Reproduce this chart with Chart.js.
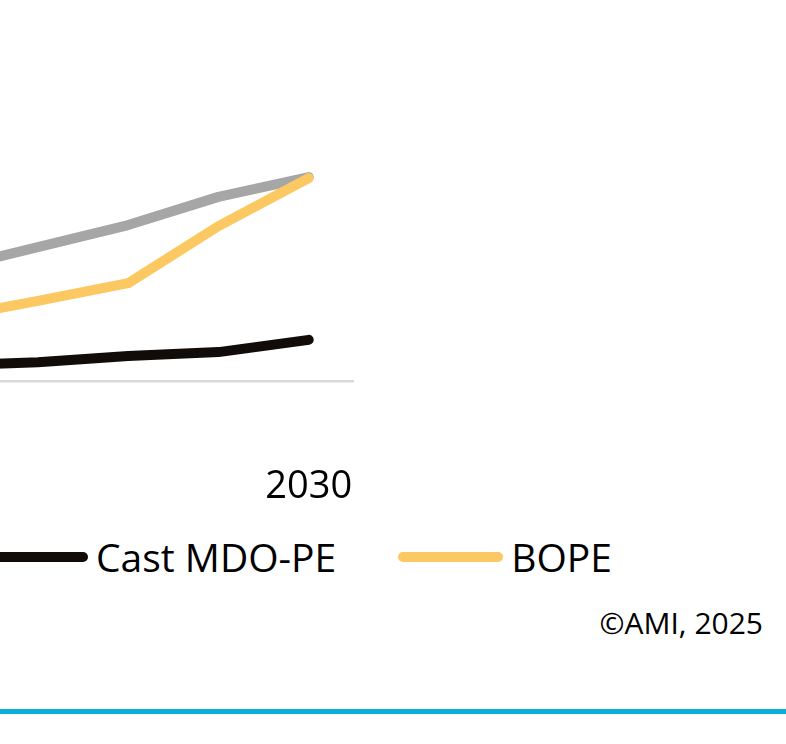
<!DOCTYPE html>
<html>
<head>
<title>MDO-PE vs BOPE</title>
<script src="https://cdn.jsdelivr.net/npm/chart.js@4.4.1/dist/chart.umd.min.js"></script>
<style>
html, body {
margin: 0;
padding: 0;
background: #ffffff;
overflow: hidden;
width: 786px;
height: 744px;
font-family: "Open Sans", sans-serif;
}
#chart1 {
position: absolute;
left: -190px;
top: 0px;
}
#legend {
position: absolute;
top: 534px;
left: -17px;
display: flex;
align-items: center;
white-space: nowrap;
}
.item {
display: flex;
align-items: center;
}
.item.off {
position: absolute;
right: 100%;
margin-right: 62px;
}
.item.gap {
margin-left: 62px;
}
.swatch {
display: inline-block;
width: 105px;
height: 10px;
border-radius: 5px;
margin-right: 8px;
}
.lbl {
font-size: 39px;
line-height: 46px;
color: #000000;
}
#credit {
position: absolute;
right: 23px;
top: 603px;
font-size: 30px;
line-height: 40px;
color: #000000;
}
#rule {
position: absolute;
left: 0;
top: 709px;
width: 786px;
height: 5px;
background: #0aaed8;
}
</style>
</head>
<body>
<canvas id="chart1" width="546" height="511"></canvas>
<div id="legend"></div>
<div id="credit">©AMI, 2025</div>
<div id="rule"></div>
<script>
// categories
var years = ['2025', '2026', '2027', '2028', '2029', '2030'];
// series (index values)
var blownMdo = [28, 31, 37.1, 43.2, 51, 56.5];
var castMdo = [3.6, 4.3, 5.2, 6.9, 8, 11.4];
var bope = [14, 17.5, 22.2, 27.1, 42.9, 56.2];

var names = ['Blown MDO-PE', 'Cast MDO-PE', 'BOPE'];
var colors = ['#a6a6a6', '#120c08', '#fbc862'];

var series = [blownMdo, castMdo, bope];
var datasets = [];
for (var i = 0; i < series.length; i++) {
  datasets.push({
    label: names[i],
    data: series[i],
    borderColor: colors[i],
    backgroundColor: colors[i],
    borderWidth: 10,
    borderCapStyle: 'round',
    borderJoinStyle: 'round',
    pointRadius: 0,
    tension: 0,
    order: [2, 1, 0][i]
  });
}

var ctx = document.getElementById('chart1').getContext('2d');
var chart1 = new Chart(ctx, {
  type: 'line',
  data: { labels: years, datasets: datasets },
  options: {
    responsive: false,
    animation: false,
    layout: { padding: { top: 20, left: 0, right: 0, bottom: 0 } },
    plugins: { legend: { display: false }, tooltip: { enabled: false } },
    scales: {
      x: {
        offset: true,
        grid: { display: false, drawTicks: false },
        border: { display: true, color: '#d9d9d9', width: 2.5 },
        ticks: {
          padding: 4,
          color: '#000000',
          // tall line box pushes the year label well below the axis
          font: { family: 'Open Sans', size: 38, lineHeight: 5.37 },
          maxRotation: 0,
          autoSkip: false,
          callback: function (v, i) { return (+years[i]) % 5 === 0 ? years[i] : ''; }
        },
        afterFit: function (s) { s.height = 130; }
      },
      y: {
        display: false,
        min: 0,
        max: 100
      }
    }
  }
});

// legend built from the datasets; the first item sits off the left edge
var leg = document.getElementById('legend');
for (var j = 0; j < datasets.length; j++) {
  var it = document.createElement('div');
  it.className = j === 0 ? 'item off' : (j > 1 ? 'item gap' : 'item');
  it.innerHTML = '<span class="swatch" style="background:' + colors[j] + '"></span><span class="lbl">' + names[j] + '</span>';
  leg.appendChild(it);
}
</script>
</body>
</html>
